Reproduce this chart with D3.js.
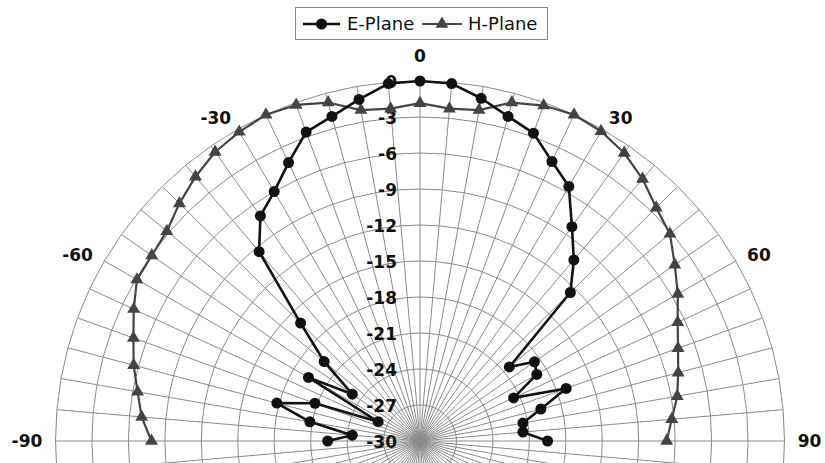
<!DOCTYPE html>
<html>
<head>
<meta charset="utf-8">
<script src="https://cdn.jsdelivr.net/npm/d3@7"></script>
<style>
  html, body { margin: 0; padding: 0; background: #fff; }
  svg { display: block; }
</style>
</head>
<body>
<svg id="chart" width="825" height="463"></svg>
<script>
// ---- data ----
const angles = [-90,-85,-80,-75,-70,-65,-60,-55,-50,-45,-40,-35,-30,-25,-20,-15,-10,-5,0,
                5,10,15,20,25,30,35,40,45,50,55,60,65,70,75,80,85,90];
const ePlane = [-22.4,-24.4,-20.8,-17.8,-20.8,-26.2,-19.4,-23.2,-19.7,-16.1,-9.4,-7.1,-6.0,-4.4,-2.6,-2.0,-1.1,-0.1,0,
                -0.1,-1.0,-2.0,-2.7,-4.3,-5.5,-8.2,-10.3,-12.5,-20.4,-18.5,-18.9,-21.5,-17.2,-19.7,-21.4,-21.5,-19.5];
const hPlane = [-7.9,-7.0,-6.4,-5.6,-4.9,-4.0,-3.1,-3.05,-2.8,-2.0,-1.25,-0.6,-0.25,0,-0.2,-0.8,-2.0,-2.2,-1.85,
                -2.2,-2.0,-0.8,-0.25,0,-0.2,-0.7,-1.5,-2.5,-3.15,-4.4,-5.5,-6.6,-7.4,-8.0,-8.5,-9.2,-9.7];
const seriesNames = ["E-Plane", "H-Plane"];
const radialTicks = [-30,-27,-24,-21,-18,-15,-12,-9,-6,-3,0];
const angleLabels = [-90,-60,-30,0,30,60,90];
const spokeStep = 5;

// ---- layout ----
const cx = 420, cy = 441, R = 360, sx = 1.0125;
const svg = d3.select("#chart");
svg.append("rect").attr("width", 825).attr("height", 463).attr("fill", "#fff");

const rScale = d3.scaleLinear().domain([-30, 0]).range([0, R]);
const aScale = d3.scaleLinear().domain([-180, 180]).range([-Math.PI, Math.PI]);
const px = (deg, v) => cx + rScale(v) * Math.sin(aScale(deg)) * sx;
const py = (deg, v) => cy - rScale(v) * Math.cos(aScale(deg));

const grid = svg.append("g").attr("stroke", "#8a8a8a").attr("stroke-width", 1).attr("fill", "none");
const spokes = d3.range(-180, 180, spokeStep);
// rings (polygons through spokes like a radar chart)
radialTicks.filter(t => t > -30).forEach(t => {
  const pts = spokes.map(a => [px(a, t), py(a, t)]);
  grid.append("path").attr("d", d3.line().curve(d3.curveLinearClosed)(pts));
});
// spokes
grid.selectAll("line.spoke").data(spokes).enter().append("line")
  .attr("x1", cx).attr("y1", cy)
  .attr("x2", a => px(a, 0)).attr("y2", a => py(a, 0));

// radial axis labels
const yAxisScale = d3.scaleLinear().domain([-30, 0]).range([cy, cy - R]);
const yAxis = d3.axisLeft(yAxisScale).tickValues(radialTicks).tickSize(0).tickPadding(0)
  .tickFormat(d => String(d));
const ag = svg.append("g").attr("transform", `translate(397,0)`).call(yAxis);
ag.select(".domain").remove();
ag.selectAll("text").attr("font-family", "DejaVu Sans, Verdana, sans-serif")
  .attr("font-weight", "bold").attr("font-size", 17).attr("fill", "#111")
  .attr("dy", "0.36em").attr("x", 0);

// angle labels
const lblD = 373;
svg.append("g").selectAll("text").data(angleLabels).enter().append("text")
  .attr("x", a => cx + lblD * Math.sin(aScale(a)) * sx)
  .attr("y", a => cy - lblD * Math.cos(aScale(a)) + (a === 0 ? -12.5 : 0))
  .attr("dy", "0.36em")
  .attr("text-anchor", a => a === 0 ? "middle" : (a > 0 ? "start" : "end"))
  .attr("font-family", "DejaVu Sans, Verdana, sans-serif")
  .attr("font-weight", "bold").attr("font-size", 17).attr("fill", "#111")
  .text(a => String(a));

// series
const eColor = "#111", hColor = "#444";
const eData = angles.map((a, i) => [a, ePlane[i]]);
const hData = angles.map((a, i) => [a, hPlane[i]]);
const line = d3.line().x(d => px(d[0], d[1])).y(d => py(d[0], d[1]));

svg.append("path").attr("d", line(hData)).attr("fill", "none")
  .attr("stroke", hColor).attr("stroke-width", 2.2).attr("stroke-linejoin", "round");
const tri = d3.symbol().type(d3.symbolTriangle).size(72);
svg.append("g").selectAll("path").data(hData).enter().append("path")
  .attr("d", tri)
  .attr("transform", d => `translate(${px(d[0], d[1])},${py(d[0], d[1])})`)
  .attr("fill", hColor);

svg.append("path").attr("d", line(eData)).attr("fill", "none")
  .attr("stroke", eColor).attr("stroke-width", 2.6).attr("stroke-linejoin", "round");
svg.append("g").selectAll("circle").data(eData).enter().append("circle")
  .attr("cx", d => px(d[0], d[1])).attr("cy", d => py(d[0], d[1]))
  .attr("r", 5.5).attr("fill", eColor);

// legend
const lg = svg.append("g");
lg.append("rect").attr("x", 295.5).attr("y", 7.5).attr("width", 252).attr("height", 32)
  .attr("fill", "#fff").attr("stroke", "#888").attr("stroke-width", 1);
const legendItems = [
  {name: seriesNames[0], x0: 303, x1: 340, text: 347, color: eColor, sw: 2.6, marker: "circle"},
  {name: seriesNames[1], x0: 422, x1: 462, text: 468, color: hColor, sw: 2.2, marker: "tri"}
];
legendItems.forEach(it => {
  lg.append("line").attr("x1", it.x0).attr("x2", it.x1).attr("y1", 24).attr("y2", 24)
    .attr("stroke", it.color).attr("stroke-width", it.sw);
  const mx = (it.x0 + it.x1) / 2;
  if (it.marker === "circle") {
    lg.append("circle").attr("cx", mx).attr("cy", 24).attr("r", 5.5).attr("fill", it.color);
  } else {
    lg.append("path").attr("d", tri).attr("transform", `translate(${mx},24)`).attr("fill", it.color);
  }
  lg.append("text").attr("x", it.text).attr("y", 24).attr("dy", "0.36em")
    .attr("font-family", "DejaVu Sans, Verdana, sans-serif").attr("font-size", 18)
    .attr("fill", "#111").text(it.name);
});
</script>
</body>
</html>
